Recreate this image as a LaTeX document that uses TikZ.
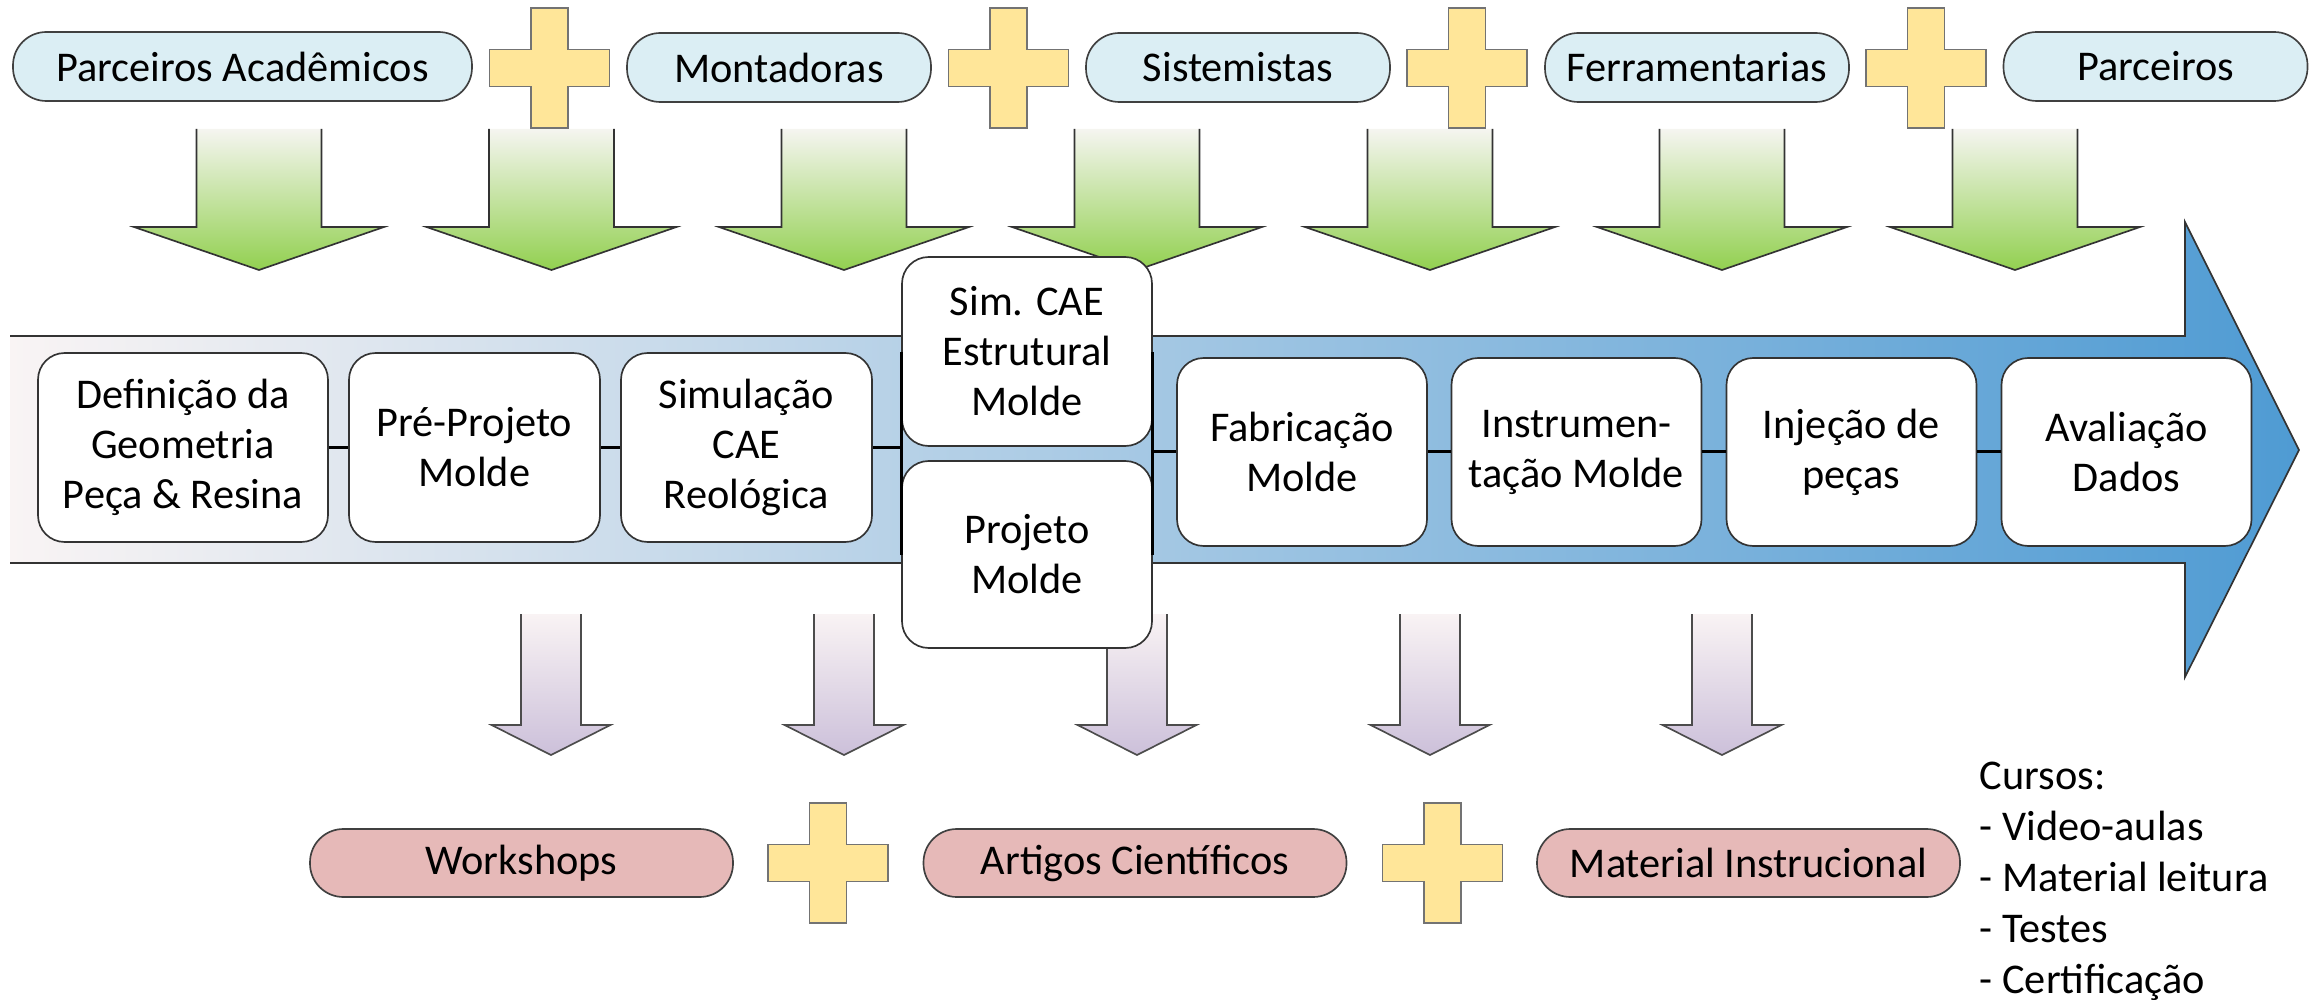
\documentclass[tikz,border=0pt]{standalone}
\usepackage{fontspec}
\setmainfont{Carlito}
\usepackage{tikz}
\tikzset{every picture/.style={line width=0.5pt}}

\definecolor{pillblue}{RGB}{219,238,244}
\definecolor{plusyellow}{RGB}{255,230,153}
\definecolor{greentop}{RGB}{245,245,240}
\definecolor{arrowgreen}{RGB}{146,208,80}
\definecolor{flowleft}{RGB}{249,244,244}
\definecolor{flowmid}{RGB}{135,184,222}
\definecolor{flowblue}{RGB}{79,155,211}
\definecolor{lilactop}{RGB}{249,243,244}
\definecolor{lilac}{RGB}{204,192,218}
\definecolor{pillpink}{RGB}{230,185,184}

\tikzset{
  partner/.style={draw=black!75, fill=pillblue, rounded corners=10pt, minimum width=91.2pt, minimum height=20.7pt, inner sep=0pt, font=\fontsize{12.7}{15}\selectfont},
  outpill/.style={partner, fill=pillpink, minimum width=126.9pt, minimum height=20.4pt},
  stagebox/.style={draw=black!80, fill=white, rounded corners=8pt, minimum width=75pt, minimum height=56.4pt, inner sep=0pt, align=center, font=\fontsize{12.7}{15}\selectfont},
  plussign/.style={draw=black!55, fill=plusyellow},
  greenarrow/.style={draw=black!80, top color=greentop, bottom color=arrowgreen},
  lilacarrow/.style={draw=black!70, top color=lilactop, bottom color=lilac},
  link/.style={line width=0.9pt}
}

\begin{document}
\begin{tikzpicture}[x=0.3pt,y=0.3pt,yscale=-1,xscale=1]
		\useasboundingbox (0,0) rectangle (2316,1000);
		
		%Shape: Down Arrow (green)
		\draw [greenarrow, shift={(259,0)}] (-62.5,129) -- (-62.5,227) -- (-125,227) -- (0,270) -- (125,227) -- (62.5,227) -- (62.5,129) ;
		%Shape: Down Arrow (green)
		\draw [greenarrow, shift={(551.5,0)}] (-62.5,129) -- (-62.5,227) -- (-125,227) -- (0,270) -- (125,227) -- (62.5,227) -- (62.5,129) ;
		%Shape: Down Arrow (green)
		\draw [greenarrow, shift={(844,0)}] (-62.5,129) -- (-62.5,227) -- (-125,227) -- (0,270) -- (125,227) -- (62.5,227) -- (62.5,129) ;
		%Shape: Down Arrow (green)
		\draw [greenarrow, shift={(1137,0)}] (-62.5,129) -- (-62.5,227) -- (-125,227) -- (0,270) -- (125,227) -- (62.5,227) -- (62.5,129) ;
		%Shape: Down Arrow (green)
		\draw [greenarrow, shift={(1430,0)}] (-62.5,129) -- (-62.5,227) -- (-125,227) -- (0,270) -- (125,227) -- (62.5,227) -- (62.5,129) ;
		%Shape: Down Arrow (green)
		\draw [greenarrow, shift={(1722,0)}] (-62.5,129) -- (-62.5,227) -- (-125,227) -- (0,270) -- (125,227) -- (62.5,227) -- (62.5,129) ;
		%Shape: Down Arrow (green)
		\draw [greenarrow, shift={(2015,0)}] (-62.5,129) -- (-62.5,227) -- (-125,227) -- (0,270) -- (125,227) -- (62.5,227) -- (62.5,129) ;
		
		%Shape: Down Arrow (lilac)
		\draw [lilacarrow, shift={(551,0)}] (-30,614) -- (-30,725) -- (-59.5,725) -- (0,755) -- (59.5,725) -- (30,725) -- (30,614) ;
		%Shape: Down Arrow (lilac)
		\draw [lilacarrow, shift={(844,0)}] (-30,614) -- (-30,725) -- (-59.5,725) -- (0,755) -- (59.5,725) -- (30,725) -- (30,614) ;
		%Shape: Down Arrow (lilac)
		\draw [lilacarrow, shift={(1137,0)}] (-30,614) -- (-30,725) -- (-59.5,725) -- (0,755) -- (59.5,725) -- (30,725) -- (30,614) ;
		%Shape: Down Arrow (lilac)
		\draw [lilacarrow, shift={(1430,0)}] (-30,614) -- (-30,725) -- (-59.5,725) -- (0,755) -- (59.5,725) -- (30,725) -- (30,614) ;
		%Shape: Down Arrow (lilac)
		\draw [lilacarrow, shift={(1722,0)}] (-30,614) -- (-30,725) -- (-59.5,725) -- (0,755) -- (59.5,725) -- (30,725) -- (30,614) ;
		
		%Shape: Right Arrow (process)
		\draw [draw=black!80, left color=flowleft, middle color=flowmid, right color=flowblue] (10,336) -- (2185,336) -- (2185,222) -- (2299,450) -- (2185,677) -- (2185,563) -- (10,563) ;
		
		%Shape: Plus
		\draw [plussign, shift={(549.5,68)}] (-18.5,-60) -- (18.5,-60) -- (18.5,-18.5) -- (60,-18.5) -- (60,18.5) -- (18.5,18.5) -- (18.5,60) -- (-18.5,60) -- (-18.5,18.5) -- (-60,18.5) -- (-60,-18.5) -- (-18.5,-18.5) -- cycle ;
		%Shape: Plus
		\draw [plussign, shift={(1008.5,68)}] (-18.5,-60) -- (18.5,-60) -- (18.5,-18.5) -- (60,-18.5) -- (60,18.5) -- (18.5,18.5) -- (18.5,60) -- (-18.5,60) -- (-18.5,18.5) -- (-60,18.5) -- (-60,-18.5) -- (-18.5,-18.5) -- cycle ;
		%Shape: Plus
		\draw [plussign, shift={(1467,68)}] (-18.5,-60) -- (18.5,-60) -- (18.5,-18.5) -- (60,-18.5) -- (60,18.5) -- (18.5,18.5) -- (18.5,60) -- (-18.5,60) -- (-18.5,18.5) -- (-60,18.5) -- (-60,-18.5) -- (-18.5,-18.5) -- cycle ;
		%Shape: Plus
		\draw [plussign, shift={(1926,68)}] (-18.5,-60) -- (18.5,-60) -- (18.5,-18.5) -- (60,-18.5) -- (60,18.5) -- (18.5,18.5) -- (18.5,60) -- (-18.5,60) -- (-18.5,18.5) -- (-60,18.5) -- (-60,-18.5) -- (-18.5,-18.5) -- cycle ;
		%Shape: Plus
		\draw [plussign, shift={(828,863)}] (-18.5,-60) -- (18.5,-60) -- (18.5,-18.5) -- (60,-18.5) -- (60,18.5) -- (18.5,18.5) -- (18.5,60) -- (-18.5,60) -- (-18.5,18.5) -- (-60,18.5) -- (-60,-18.5) -- (-18.5,-18.5) -- cycle ;
		%Shape: Plus
		\draw [plussign, shift={(1442.5,863)}] (-18.5,-60) -- (18.5,-60) -- (18.5,-18.5) -- (60,-18.5) -- (60,18.5) -- (18.5,18.5) -- (18.5,60) -- (-18.5,60) -- (-18.5,18.5) -- (-60,18.5) -- (-60,-18.5) -- (-18.5,-18.5) -- cycle ;
		
		% Partner pills
		\node [partner, minimum width=137.7pt] (acad) at (242.5,66.5) {Parceiros Acadêmicos};
		\node [partner] (mont) at (779,67.5) {Montadoras};
		\node [partner] (sist) at (1238,67.5) {Sistemistas};
		\node [partner] (ferr) at (1697,67.5) {Ferramentarias};
		\node [partner] (parc) at (2155.5,66.5) {Parceiros};
		
		% Process stages
		\node [stagebox, minimum width=87pt, minimum height=56.7pt] (geom) at (183,447.5) {Definição da\\Geometria\\Peça \& Resina};
		\node [stagebox, minimum width=75.3pt, minimum height=56.7pt] (prep) at (474.5,447.5) {Pré-Projeto\\Molde};
		\node [stagebox, minimum width=75.3pt, minimum height=56.7pt] (reol) at (746.5,447.5) {Simulação\\CAE\\Reológica};
		\node [stagebox, minimum height=56.7pt] (estr) at (1027,351.5) {Sim. CAE\\Estrutural\\Molde};
		\node [stagebox, minimum height=56.1pt] (proj) at (1027,554.5) {Projeto\\Molde};
		\node [stagebox] (fabr) at (1302,452) {Fabricação\\Molde};
		\node [stagebox] (inst) at (1576.5,452) {Instrumen-\\tação Molde};
		\node [stagebox] (inje) at (1851.5,452) {Injeção de\\peças};
		\node [stagebox] (aval) at (2126.5,452) {Avaliação\\Dados};
		
		%Straight Lines
		\coordinate (busLtop) at (901,352);
		\coordinate (busLbot) at (901,555);
		\coordinate (busRtop) at (1152,352);
		\coordinate (busRbot) at (1152,555);
		\draw [link] (busLtop) -- (busLbot) ;
		\draw [link] (busRtop) -- (busRbot) ;
		\draw [link] (geom) -- (prep) ;
		\draw [link] (prep) -- (reol) ;
		\draw [link] (reol.east) -- (reol.east -| busLtop) ;
		\draw [link] (fabr.west) -- (fabr.west -| busRtop) ;
		\draw [link] (fabr) -- (inst) ;
		\draw [link] (inst) -- (inje) ;
		\draw [link] (inje) -- (aval) ;
		
		% Output pills
		\node [outpill] (work) at (521.5,863) {Workshops};
		\node [outpill] (artg) at (1135,863) {Artigos Científicos};
		\node [outpill] (matl) at (1748.5,863) {Material Instrucional};
		
		% Text Node
		\node [anchor=north west, inner sep=0pt, align=left, font=\fontsize{12.7}{15.3}\selectfont] (curs) at (1979,761) {Cursos:\\- Video-aulas\\- Material leitura\\- Testes\\- Certificação};
		
\end{tikzpicture}
\end{document}
